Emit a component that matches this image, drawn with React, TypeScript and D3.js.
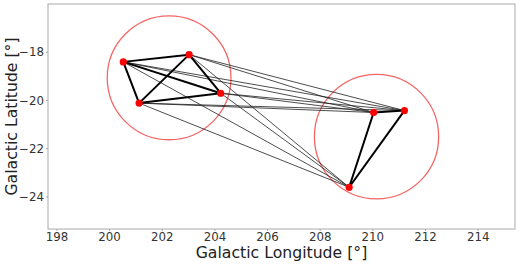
import React from "react";
import * as d3 from "d3";

const groupA = [
  { l: 200.52, b: -18.4 },
  { l: 203.02, b: -18.1 },
  { l: 201.12, b: -20.11 },
  { l: 204.22, b: -19.7 },
];
const groupB = [
  { l: 210.03, b: -20.5 },
  { l: 211.2, b: -20.42 },
  { l: 209.1, b: -23.6 },
];
const circles = [
  { l: 202.26, b: -19.06, rl: 2.35, rb: 2.57 },
  { l: 210.14, b: -21.5, rl: 2.36, rb: 2.58 },
];
const xTicks = [198, 200, 202, 204, 206, 208, 210, 212, 214];
const yTicks = [-18, -20, -22, -24];

const W = 520, H = 264;
const M = { left: 48, right: 5, top: 4, bottom: 35 };

export default function App() {
  const x = d3.scaleLinear().domain([197.66, 215.4]).range([M.left, W - M.right]);
  const y = d3.scaleLinear().domain([-16.0, -25.33]).range([M.top, H - M.bottom]);
  const font = "DejaVu Sans, sans-serif";
  const pairs = (arr: typeof groupA) => {
    const out: [typeof groupA[0], typeof groupA[0]][] = [];
    for (let i = 0; i < arr.length; i++)
      for (let j = i + 1; j < arr.length; j++) out.push([arr[i], arr[j]]);
    return out;
  };
  const cross: [typeof groupA[0], typeof groupA[0]][] = [];
  groupA.forEach((a) => groupB.forEach((b) => cross.push([a, b])));
  const thick = [...pairs(groupA), ...pairs(groupB)];
  return (
    <svg width={W} height={H} style={{ position: "absolute", left: 0, top: 0, background: "#fff" }}>
      <defs>
        <clipPath id="clip">
          <rect x={M.left} y={M.top} width={W - M.left - M.right} height={H - M.top - M.bottom} />
        </clipPath>
      </defs>
      <g clipPath="url(#clip)">
        {circles.map((c, i) => (
          <ellipse key={i} cx={x(c.l)} cy={y(c.b)} rx={x(c.l + c.rl) - x(c.l)} ry={y(c.b - c.rb) - y(c.b)}
            fill="none" stroke="#f04040" strokeOpacity={0.8} strokeWidth={1.3} />
        ))}
        {cross.map(([a, b], i) => (
          <line key={"c" + i} x1={x(a.l)} y1={y(a.b)} x2={x(b.l)} y2={y(b.b)} stroke="#222" strokeOpacity={0.8} strokeWidth={1} />
        ))}
        {thick.map(([a, b], i) => (
          <line key={"t" + i} x1={x(a.l)} y1={y(a.b)} x2={x(b.l)} y2={y(b.b)} stroke="#000" strokeWidth={2} />
        ))}
        {[...groupA, ...groupB].map((p, i) => (
          <circle key={"p" + i} cx={x(p.l)} cy={y(p.b)} r={3.6} fill="#ff0000" />
        ))}
      </g>
      <rect x={M.left} y={M.top} width={W - M.left - M.right} height={H - M.top - M.bottom} fill="none" stroke="#aaa" strokeWidth={1} />
      {xTicks.map((t) => (
        <g key={t}>
          <line x1={x(t)} x2={x(t)} y1={H - M.bottom} y2={H - M.bottom + 2} stroke="#aaa" />
          <text x={x(t)} y={H - M.bottom + 12} textAnchor="middle" fontFamily={font} fontSize={11.8} fill="#333">{t}</text>
        </g>
      ))}
      {yTicks.map((t) => (
        <g key={t}>
          <line x1={M.left - 2} x2={M.left} y1={y(t)} y2={y(t)} stroke="#aaa" />
          <text x={M.left - 4} y={y(t) + 4.2} textAnchor="end" fontFamily={font} fontSize={11.8} fill="#333">{"\u2212" + Math.abs(t)}</text>
        </g>
      ))}
      <text x={(M.left + W - M.right) / 2} y={258} textAnchor="middle" fontFamily={font} fontSize={15.7} fill="#222">Galactic Longitude [°]</text>
      <text transform={`translate(17,${(M.top + H - M.bottom) / 2}) rotate(-90)`} textAnchor="middle" fontFamily={font} fontSize={15.7} fill="#222">Galactic Latitude [°]</text>
    </svg>
  );
}
